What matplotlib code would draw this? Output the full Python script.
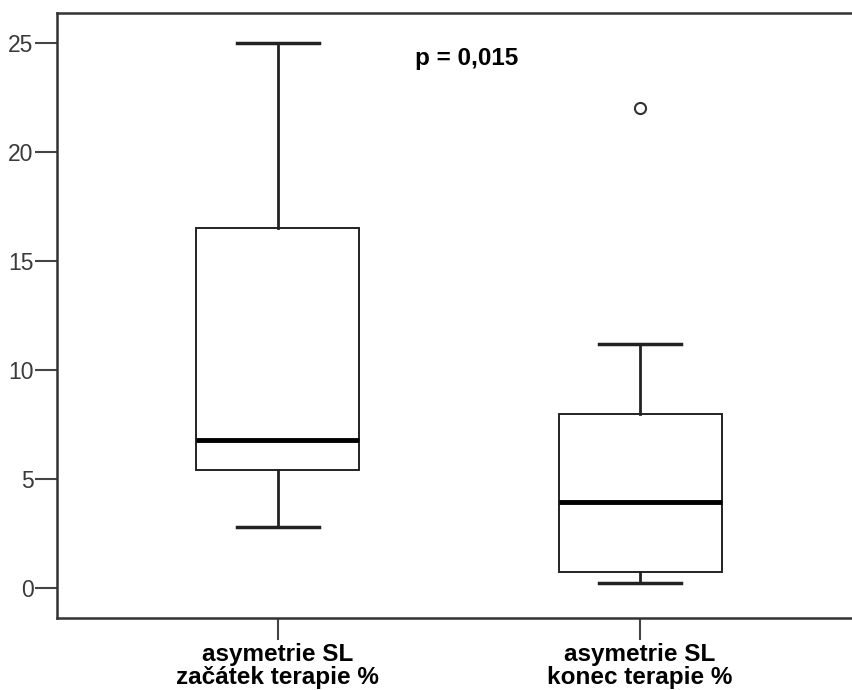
import matplotlib.pyplot as plt

plt.rcParams['font.family'] = ['Liberation Sans', 'DejaVu Sans']

categories = ["asymetrie SL\nzačátek terapie %", "asymetrie SL\nkonec terapie %"]
whisker_low = [2.8, 0.23]
q1 = [5.42, 0.77]
median = [6.82, 3.95]
q3 = [16.52, 7.99]
whisker_high = [25.0, 11.2]
outliers = [[], [22.03]]
p_text = "p = 0,015"

stats = []
for i, lab in enumerate(categories):
    stats.append(dict(label=lab, whislo=whisker_low[i], q1=q1[i], med=median[i],
                      q3=q3[i], whishi=whisker_high[i], fliers=outliers[i]))

fig = plt.figure(figsize=(8.52, 6.9), dpi=100)
ax = fig.add_axes([57 / 852, 72 / 690, 804 / 852, 605 / 690])

ax.bxp(stats, positions=[1, 2], widths=0.45, capwidths=0.225, patch_artist=True,
       boxprops=dict(facecolor="white", edgecolor="#222222", lw=1.4),
       medianprops=dict(color="black", lw=3.5),
       whiskerprops=dict(color="#222222", lw=2.0),
       capprops=dict(color="#222222", lw=2.5),
       flierprops=dict(marker="o", markersize=8, markerfacecolor="white",
                       markeredgecolor="#333333", markeredgewidth=1.5))

ax.set_xlim(0.39, 2.61)
ax.set_ylim(-1.36, 26.37)
ax.set_yticks([0, 5, 10, 15, 20, 25])
ax.tick_params(axis="y", length=16, width=1.5, color="#444444", labelsize=16.5,
               labelcolor="#3a3a3a", pad=1)
ax.tick_params(axis="x", length=16, width=1.5, color="#444444", labelsize=17.5, pad=2)
for t in ax.get_xticklabels():
    t.set_fontweight("bold")
    t.set_linespacing(1.0)
for s in ax.spines.values():
    s.set_color("#333333")
    s.set_linewidth(1.8)

ax.text(1.52, 24.3, p_text, fontsize=17.5, fontweight="bold", ha="center", va="center")

fig.savefig("out.png", dpi=100)
